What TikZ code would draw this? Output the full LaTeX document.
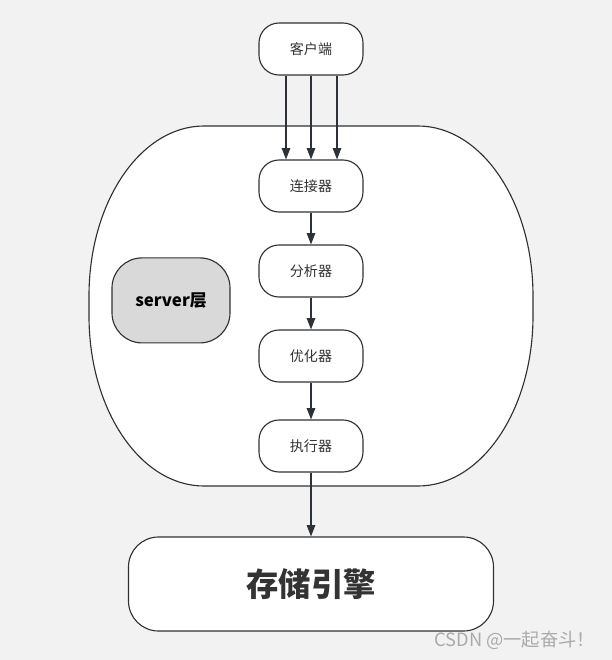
\documentclass[tikz,border=0pt]{standalone}
\usepackage{fontspec}
\setmainfont{Noto Sans CJK SC}
\usepackage{xcolor}
\definecolor{canvas}{RGB}{242,242,242}
\definecolor{darkline}{RGB}{45,50,56}
\definecolor{darktext}{RGB}{51,51,51}
\definecolor{layergray}{RGB}{217,217,217}
\definecolor{marktext}{RGB}{170,170,170}
\usepackage{tikz}
\usetikzlibrary{arrows.meta}
\newcommand{\widthstage}{2.6cm}
\newcommand{\heightstage}{1.3cm}
\newcommand{\stepstage}{2.125cm}
\tikzset{
    common/.style={draw=darkline, line width=0.8pt, rectangle, fill=white, text=darktext},
    stage/.style={common, rounded corners=0.5cm, minimum width=\widthstage, minimum height=\heightstage, font=\fontsize{10}{12}\selectfont},
    layer/.style={common, fill=layergray, text=black, rounded corners=0.75cm, minimum width=2.95cm, minimum height=2.125cm, font=\fontsize{12}{14}\selectfont\bfseries},
    engine/.style={common, rounded corners=0.75cm, minimum width=9.125cm, minimum height=2.35cm, font=\fontsize{23}{26}\selectfont\bfseries},
    server/.style={draw=darkline, line width=0.8pt, fill=white},
    flow/.style={-{Triangle[length=8pt, width=6pt]}, draw=darkline, line width=0.8pt}
}

\begin{document}
\begin{tikzpicture}
        \fill[canvas] (0,0) rectangle (15.3,-16.5);
        \useasboundingbox (0,0) rectangle (15.3,-16.5);

        % server
        \draw[server]
            (5.1,-3.15) -- (10.45,-3.15)
            arc[start angle=90, end angle=0, x radius=2.875cm, y radius=4.25cm] -- ++(0,-0.5)
            arc[start angle=0, end angle=-90, x radius=2.875cm, y radius=4.25cm] -- (5.1,-12.15)
            arc[start angle=270, end angle=180, x radius=2.875cm, y radius=4.25cm] -- ++(0,0.5)
            arc[start angle=180, end angle=90, x radius=2.875cm, y radius=4.25cm] -- cycle;

        \path
            (7.775,-1.225) node[stage] (client) {客户端}
            ++(0,-3.425) node[stage] (connector) {连接器}
            ++(0,-\stepstage) node[stage] (parser) {分析器}
            ++(0,-\stepstage) node[stage] (optimizer) {优化器}
            ++(0,-2.25) node[stage] (executor) {执行器}
            ++(0,-3.45) node[engine] (engine) {存储引擎};

        \node[layer] (serverlayer) at (4.275,-7.51) {server层};

        \node[text=marktext, font=\fontsize{13}{15}\selectfont, anchor=east] (mark) at (15.0,-16.0) {CSDN @一起奋斗！};

        \draw[flow] ([xshift=-0.625cm]client.south) -- ([xshift=-0.625cm]connector.north);
        \draw[flow] (client) -- (connector);
        \draw[flow] ([xshift=0.65cm]client.south) -- ([xshift=0.65cm]connector.north);
        \draw[flow] (connector) -- (parser);
        \draw[flow] (parser) -- (optimizer);
        \draw[flow] (optimizer) -- (executor);
        \draw[flow] (executor) -- (engine);

    \end{tikzpicture}
\end{document}
